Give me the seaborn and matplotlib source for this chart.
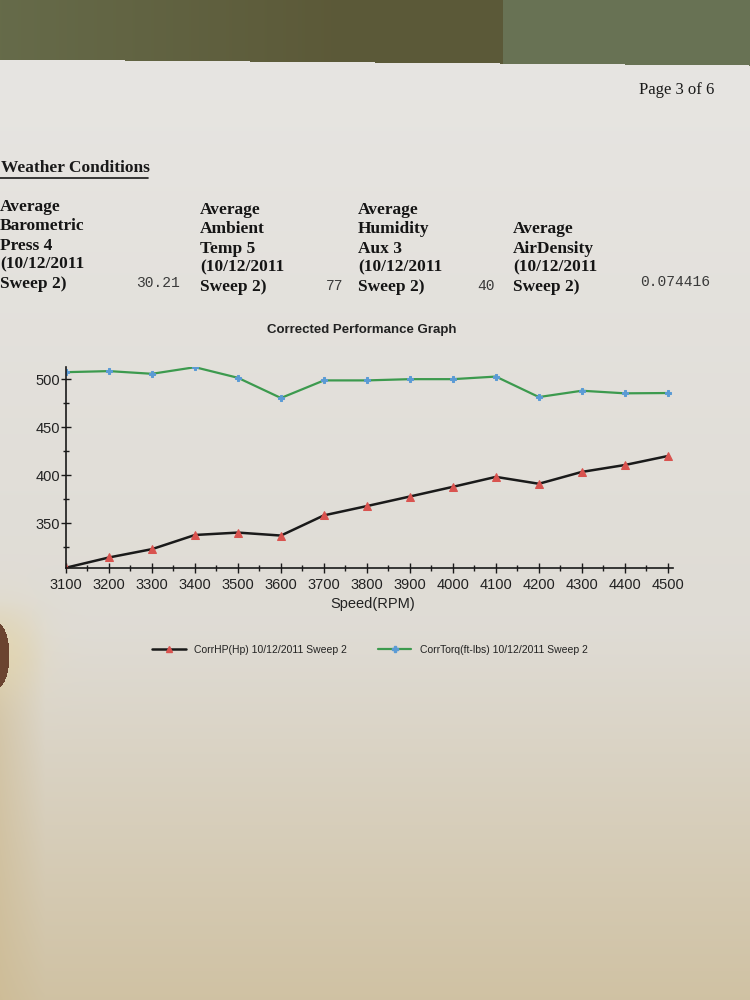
import numpy as np
import pandas as pd
import matplotlib
matplotlib.use("Agg")
import matplotlib.pyplot as plt
from matplotlib.lines import Line2D
from matplotlib.ticker import MultipleLocator
import seaborn as sns

# ---------------- data ----------------
speed_rpm = [3100, 3200, 3300, 3400, 3500, 3600, 3700, 3800,
             3900, 4000, 4100, 4200, 4300, 4400, 4500]
corr_hp = [303.3, 314, 322.7, 337.5, 340, 336.9, 358, 367.7,
           377.7, 387.8, 398.2, 391, 403.4, 410.6, 420]
corr_torque = [507.6, 508.7, 505.9, 512.8, 501.7, 480.6, 499, 499,
               500.3, 500.3, 503, 481.6, 488.2, 485.5, 485.8]
series_labels = ["CorrHP(Hp) 10/12/2011 Sweep 2",
                 "CorrTorq(ft-lbs) 10/12/2011 Sweep 2"]
x_ticks = [3100, 3200, 3300, 3400, 3500, 3600, 3700, 3800,
           3900, 4000, 4100, 4200, 4300, 4400, 4500]
y_ticks = [350, 400, 450, 500]

weather_headers = [
    "Average\nBarometric\nPress 4\n(10/12/2011\nSweep 2)",
    "Average\nAmbient\nTemp 5\n(10/12/2011\nSweep 2)",
    "Average\nHumidity\nAux 3\n(10/12/2011\nSweep 2)",
    "Average\nAirDensity\n(10/12/2011\nSweep 2)",
]
weather_values = ["30.21", "77", "40", "0.074416"]

# ---------------- figure ----------------
sns.set_theme(style="white")
plt.rcParams["font.family"] = ["Liberation Sans", "DejaVu Sans"]

W, H = 750, 1000
fig = plt.figure(figsize=(7.5, 10), dpi=100)

# photo-like background: green wall on top, paper below
bg = fig.add_axes([0, 0, 1, 1], zorder=-10)
bg.set_axis_off()
yy = np.linspace(0, 1, H)[:, None]
xx = np.linspace(0, 1, W)[None, :]
paper_top = np.array([0.905, 0.898, 0.885])
paper_mid = np.array([0.875, 0.862, 0.835])
paper_bot = np.array([0.815, 0.760, 0.640])
t = np.clip((yy - 0.07) / 0.93, 0, 1)[..., None]
img = np.where(t < 0.6,
               paper_top + (paper_mid - paper_top) * (t / 0.6),
               paper_mid + (paper_bot - paper_mid) * ((t - 0.6) / 0.4))
img = np.broadcast_to(img, (H, W, 3)).copy()
fy, fx = np.mgrid[0:H, 0:W]
# warm beige band on the lower left (shadow of the hand)
band = np.clip(1 - fx / 45.0, 0, 1) * np.clip((fy - 600) / 60.0, 0, 1)
warm = np.array([0.80, 0.72, 0.55])
img = img * (1 - 0.5 * band[..., None]) + warm * 0.5 * band[..., None]
glow = np.exp(-(((fx) / 40.0) ** 2 + ((fy - 650) / 45.0) ** 2))
glow_col = np.array([0.90, 0.85, 0.70])
img = img * (1 - 0.7 * glow[..., None]) + glow_col * 0.7 * glow[..., None]
edge = (60 + 6 * xx[0]).astype(int)
green_l = np.array([0.40, 0.42, 0.29])
green_m = np.array([0.36, 0.35, 0.22])
green_r = np.array([0.41, 0.45, 0.33])
for c in range(W):
    f = c / W
    if f < 0.45:
        col = green_l + (green_m - green_l) * (f / 0.45)
    elif f < 0.67:
        col = green_m
    else:
        col = green_r
    img[:edge[c], c, :] = col
# fingertip on the left edge
finger = (((fx + 4) / 13.0) ** 2 + ((fy - 655) / 33.0) ** 2) < 1
img[finger] = np.array([0.42, 0.27, 0.19])
bg.imshow(img, extent=[0, 1, 0, 1], aspect="auto", origin="upper")
bg.set_xlim(0, 1)
bg.set_ylim(0, 1)

def fx_(px):
    return px / W

def fy_(py):
    return 1 - py / H

# page header
fig.text(fx_(714), fy_(90), "Page 3 of 6", family="Liberation Serif",
         fontsize=12, ha="right", va="center", color="#1a1a1a")
fig.text(fx_(1), fy_(168), "Weather Conditions", family="Liberation Serif",
         fontsize=12.5, fontweight="bold", ha="left", va="center", color="#1a1a1a")
fig.add_artist(Line2D([fx_(0), fx_(148)], [fy_(178), fy_(178)],
                      color="#1a1a1a", lw=1.2))

col_x = [0, 200, 358, 513]
col_bottom = [292, 295, 295, 295]
val_x = [180, 343, 495, 710]
val_y = [283, 286, 286, 282]
for hx, hb, htxt in zip(col_x, col_bottom, weather_headers):
    fig.text(fx_(hx), fy_(hb), htxt, family="Liberation Serif", fontsize=12.5,
             fontweight="bold", ha="left", va="bottom", linespacing=1.27,
             color="#151515")
for vx, vy, vtxt in zip(val_x, val_y, weather_values):
    fig.text(fx_(vx), fy_(vy), vtxt, family="Liberation Mono", fontsize=10.5,
             ha="right", va="center", color="#3a3a3a")

# chart
fig.text(fx_(362), fy_(330), "Corrected Performance Graph", fontsize=9.5,
         fontweight="bold", ha="center", va="center", color="#222222")

ax = fig.add_axes([fx_(66), fy_(568), (673 - 66) / W, (568 - 367) / H])
ax.patch.set_alpha(0)

df = pd.DataFrame({"speed": speed_rpm, "hp": corr_hp, "torque": corr_torque})
sns.lineplot(data=df, x="speed", y="torque", ax=ax, color="#3c9a4e", lw=1.6,
             marker="P", markersize=5, markerfacecolor="#5b9bd5",
             markeredgecolor="#5b9bd5", label=series_labels[1], legend=False)
sns.lineplot(data=df, x="speed", y="hp", ax=ax, color="#1a1a1a", lw=1.8,
             marker="^", markersize=6, markerfacecolor="#d9534f",
             markeredgecolor="#d9534f", label=series_labels[0], legend=False)

ax.set_xlim(3100, 4512)
ax.set_ylim(303, 513)
ax.set_xticks(x_ticks)
ax.set_xticklabels([str(v) for v in x_ticks])
ax.xaxis.set_minor_locator(MultipleLocator(50))
ax.set_yticks(y_ticks)
ax.set_yticklabels([str(v) for v in y_ticks])
ax.yaxis.set_minor_locator(MultipleLocator(25))
for s in ["top", "right"]:
    ax.spines[s].set_visible(False)
for s in ["left", "bottom"]:
    ax.spines[s].set_color("#1a1a1a")
    ax.spines[s].set_linewidth(1.2)
ax.tick_params(axis="both", which="both", direction="inout", color="#1a1a1a",
               width=1, left=True, bottom=True)
ax.tick_params(axis="both", which="major", length=7, labelsize=10.5,
               labelcolor="#222222", pad=4)
ax.tick_params(axis="both", which="minor", length=5)
ax.tick_params(axis="y", pad=1)
ax.set_xlabel("")
ax.set_ylabel("")
ax.grid(False)
fig.text(fx_(373), fy_(604), "Speed(RPM)", fontsize=10.5, ha="center",
         va="center", color="#222222")

handles = [
    Line2D([], [], color="#1a1a1a", lw=1.8, marker="^", markersize=5,
           markerfacecolor="#d9534f", markeredgecolor="#d9534f"),
    Line2D([], [], color="#3c9a4e", lw=1.6, marker="P", markersize=4,
           markerfacecolor="#5b9bd5", markeredgecolor="#5b9bd5"),
]
fig.legend(handles, series_labels, loc="center", ncol=2, frameon=False,
           bbox_to_anchor=(fx_(370), fy_(650)), fontsize=7.5,
           handlelength=3.2, columnspacing=3.0, labelcolor="#222222")

fig.savefig("out.png", dpi=100)
